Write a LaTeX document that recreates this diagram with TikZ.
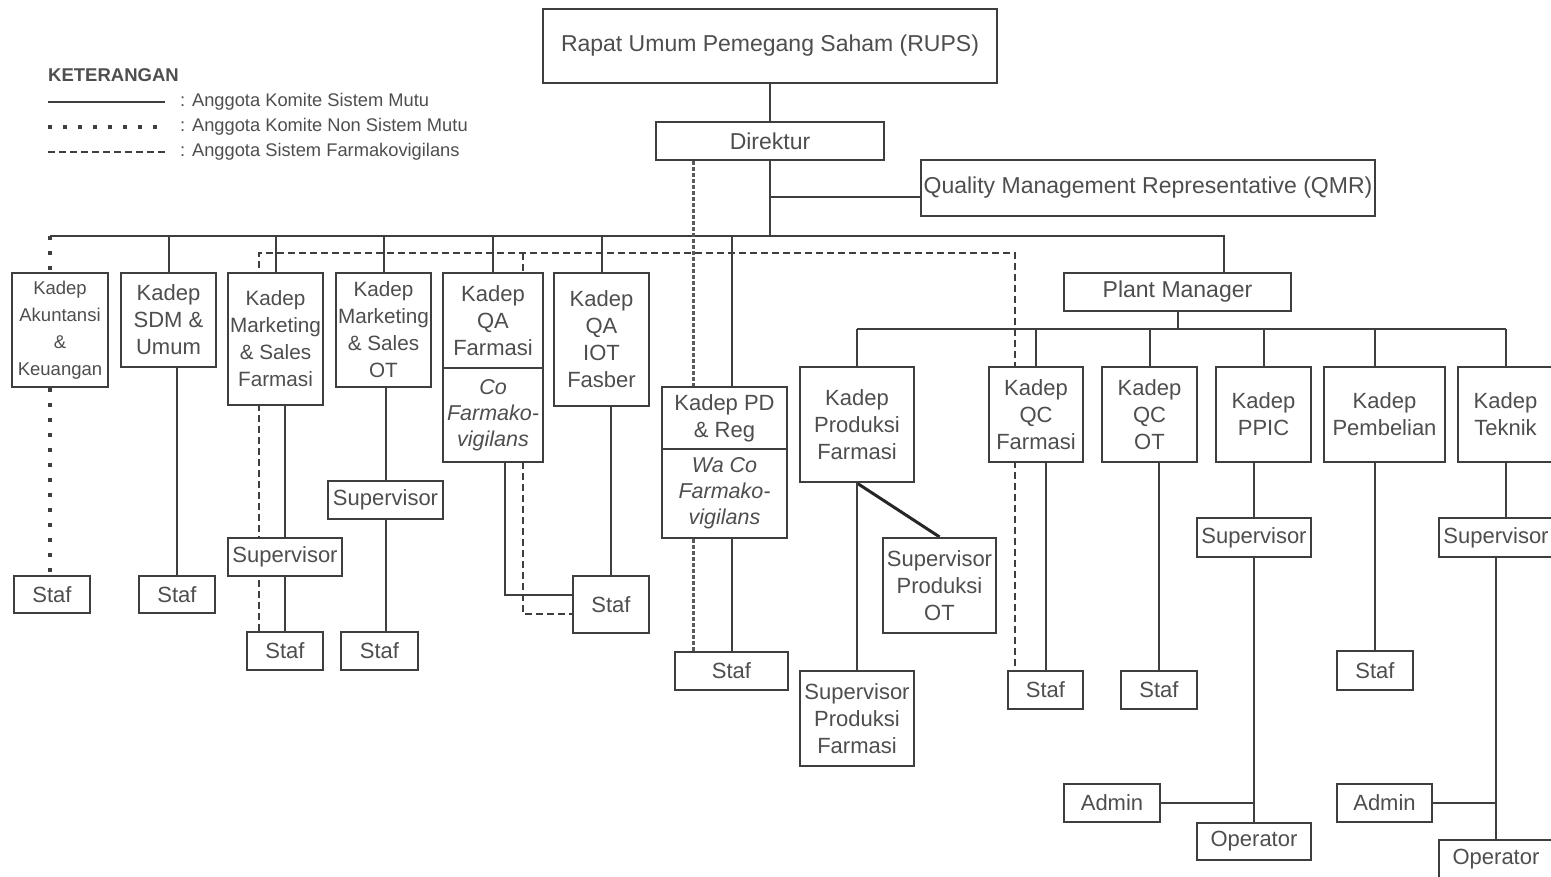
\documentclass[tikz,border=0pt]{standalone}
\usepackage{fontspec}
\setmainfont{Liberation Sans}
\usetikzlibrary{backgrounds}
\definecolor{Ink}{RGB}{62,62,62}
\definecolor{Txt}{RGB}{78,78,78}

\begin{document}
\begin{tikzpicture}[x=1pt,y=-1pt,
  box/.style={draw=Ink, line width=2.2pt, fill=white, text=Txt, align=center, inner sep=0pt, font=\fontsize{22}{27}\selectfont},
  big/.style={box, font=\fontsize{23}{27}\selectfont},
  coi/.style={box, font=\fontsize{21.5}{26}\selectfont\itshape},
  legtxt/.style={anchor=west, inner sep=0pt, text=Txt, font=\fontsize{18.3}{20}\selectfont},
  sm/.style={draw=Ink, line width=2pt},
  nsm/.style={draw=Ink, line width=3.5pt, dash pattern=on 3.5pt off 11.5pt},
  fv/.style={draw=Ink, line width=2pt, dash pattern=on 7pt off 4pt},
  pv/.style={draw=Ink!85, line width=3pt, dash pattern=on 3.5pt off 2.5pt}]
\useasboundingbox (0,0) rectangle (1551,876);

% keterangan
\node[legtxt, font=\bfseries\fontsize{18.5}{20}\selectfont] (ket) at (48,75) {KETERANGAN};
\node[legtxt] (lg1) at (180,102) {: Anggota Komite Sistem Mutu};
\node[legtxt] (lg2) at (180,127) {: Anggota Komite Non Sistem Mutu};
\node[legtxt] (lg3) at (180,152) {: Anggota Sistem Farmakovigilans};
\draw[sm] (48,102) -- (165,102);
\draw[nsm] (48,127) -- (165,127);
\draw[fv] (48,152) -- (165,152);

% pimpinan
\node[big, minimum width=454pt, minimum height=74pt] (rups) at (770,46) {Rapat Umum Pemegang Saham (RUPS)};
\node[big, minimum width=228pt, minimum height=38pt] (dir) at (770,141) {Direktur};
\node[big, minimum width=454pt, minimum height=56pt] (qmr) at (1148,188) {Quality Management Representative (QMR)};
\node[big, minimum width=227pt, minimum height=38pt] (pm) at (1177.5,292) {Plant Manager};

% kepala departemen
\node[box, font=\fontsize{18.5}{27}\selectfont, minimum width=96pt, minimum height=114pt] (akt) at (60,330) {Kadep\\Akuntansi\\\&\\Keuangan};
\node[box, minimum width=95pt, minimum height=94pt] (sdm) at (168.5,320) {Kadep\\SDM \&\\Umum};
\node[box, font=\fontsize{20.7}{27}\selectfont, minimum width=95pt, minimum height=132pt] (kmf) at (275.5,339) {Kadep\\Marketing\\\& Sales\\Farmasi};
\node[box, font=\fontsize{20.7}{27}\selectfont, minimum width=95pt, minimum height=114pt] (kmo) at (383.5,330) {Kadep\\Marketing\\\& Sales\\OT};
\node[box, minimum width=100pt, minimum height=95pt] (kqa) at (493,320.5) {Kadep\\QA\\Farmasi};
\node[coi, minimum width=100pt, minimum height=94pt] (kqaco) at (493,415) {Co\\Farmako-\\vigilans};
\node[box, minimum width=95pt, minimum height=133pt] (kqi) at (601.5,339.5) {Kadep\\QA\\IOT\\Fasber};
\node[box, minimum width=125pt, minimum height=62pt] (kpd) at (724.5,418) {Kadep PD\\\& Reg};
\node[coi, minimum width=125pt, minimum height=89pt] (kpdco) at (724.5,493.5) {Wa Co\\Farmako-\\vigilans};
\node[box, minimum width=114pt, minimum height=115pt] (kpf) at (857,424.5) {Kadep\\Produksi\\Farmasi};
\node[box, minimum width=94pt, minimum height=95pt] (kqcf) at (1036,414.5) {Kadep\\QC\\Farmasi};
\node[box, minimum width=95pt, minimum height=95pt] (kqco) at (1149.5,414.5) {Kadep\\QC\\OT};
\node[box, minimum width=95pt, minimum height=95pt] (kpp) at (1263.5,414.5) {Kadep\\PPIC};
\node[box, minimum width=121pt, minimum height=95pt] (kpb) at (1384.5,414.5) {Kadep\\Pembelian};
\node[box, minimum width=95pt, minimum height=95pt] (ktk) at (1505.5,414.5) {Kadep\\Teknik};

% supervisor, staf, admin, operator
\node[box, minimum width=76pt, minimum height=37pt] (sakt) at (52,594.5) {Staf};
\node[box, minimum width=76pt, minimum height=37pt] (ssdm) at (177,594.5) {Staf};
\node[box, minimum width=114pt, minimum height=38pt] (spmf) at (285,557) {Supervisor};
\node[box, minimum width=76pt, minimum height=38pt] (smf) at (285,651) {Staf};
\node[box, minimum width=115pt, minimum height=38pt] (spmo) at (385.5,500) {Supervisor};
\node[box, minimum width=77pt, minimum height=38pt] (smo) at (379.5,651) {Staf};
\node[box, minimum width=76pt, minimum height=57pt] (sqa) at (611,604.5) {Staf};
\node[box, minimum width=113pt, minimum height=38pt] (spd) at (731.5,671) {Staf};
\node[box, minimum width=113pt, minimum height=95pt] (spo) at (939.5,585.5) {Supervisor\\Produksi\\OT};
\node[box, minimum width=114pt, minimum height=95pt] (spf) at (857,718.5) {Supervisor\\Produksi\\Farmasi};
\node[box, minimum width=75pt, minimum height=38pt] (sqcf) at (1045.5,690) {Staf};
\node[box, minimum width=76pt, minimum height=38pt] (sqco) at (1159,690) {Staf};
\node[box, minimum width=114pt, minimum height=39pt] (spp) at (1254,537.5) {Supervisor};
\node[box, minimum width=96pt, minimum height=38pt] (app) at (1112,803) {Admin};
\node[box, minimum width=114pt, minimum height=37pt] (opp) at (1254,841.5) {Operator};
\node[box, minimum width=76pt, minimum height=39pt] (spb) at (1375,670.5) {Staf};
\node[box, minimum width=114pt, minimum height=39pt] (stk) at (1496,537.5) {Supervisor};
\node[box, minimum width=95pt, minimum height=38pt] (atk) at (1384.5,803) {Admin};
\node[box, minimum width=114pt, minimum height=38pt] (otk) at (1496,859) {Operator};

\coordinate (b0) at (50,236);
\coordinate (bus) at (770,236);
\coordinate (pmin) at (1224,273);
\coordinate (pb) at (1178,329);
\coordinate (fvl) at (259,253);
\coordinate (fvq) at (523,253);
\coordinate (fvr) at (1015,253);
\coordinate (pv) at (693,236);

\begin{scope}[on background layer]
% garis komando
\draw[sm] (rups) -- (dir);
\draw[sm] (dir.south) -- (bus);
\draw[sm] ([yshift=-9pt]qmr.west) -- ([yshift=-9pt]qmr.west -| bus);
\draw[sm] (b0) -- (pmin |- b0) -- (pmin);
\foreach \n in {sdm,kmf,kmo,kqa,kqi}
  \draw[sm] (\n.north) -- (\n.north |- bus);
\draw[sm] (kpd.north -| spd.north) -- (bus -| spd.north);
\draw[nsm] (b0) -- (b0 |- akt.north);
\draw[nsm] (b0 |- akt.south) -- (b0 |- sakt.north);
\draw[sm] (ssdm.north) -- (ssdm.north |- sdm.south);
\draw[sm] (kmf.south -| spmf.north) -- (spmf.north);
\draw[sm] (spmf) -- (smf);
\draw[sm] (kmo.south -| spmo.north) -- (spmo.north);
\draw[sm] (spmo.south) -- (spmo.south |- smo.north);
\draw[sm] ([xshift=12pt]kqaco.south) |- ([yshift=9.5pt]sqa.west);
\draw[sm] (sqa.north) -- (sqa.north |- kqi.south);
\draw[sm] (spd.north) -- (spd.north |- kpdco.south);
% plant
\draw[sm] (pm.south) -- (pm.south |- pb);
\draw[sm] (kpf.north |- pb) -- (ktk.north |- pb);
\foreach \n in {kpf,kqcf,kqco,kpp,ktk}
  \draw[sm] (\n.north) -- (\n.north |- pb);
\draw[sm] (kpb.north -| spb.north) -- (pb -| spb.north);
\draw[sm, line width=3pt, draw=black!85] (kpf.south) -- (spo.north);
\draw[sm] (kpf) -- (spf);
\draw[sm] (sqcf.north) -- (sqcf.north |- kqcf.south);
\draw[sm] (sqco.north) -- (sqco.north |- kqco.south);
\draw[sm] (kpp.south -| spp.north) -- (spp.north);
\draw[sm] (spp) -- (opp);
\draw[sm] (app.east) -- (app.east -| spp.south);
\draw[sm] (spb.north) -- (spb.north |- kpb.south);
\draw[sm] (ktk.south) -- (ktk.south |- stk.north);
\draw[sm] (stk) -- (otk);
\draw[sm] (atk.east) -- (atk.east -| stk.south);
% farmakovigilans
\draw[fv] (fvl |- smf.north) -- (fvl) -- (fvr) -- (fvr |- sqcf.north);
\draw[fv] (fvq) |- ([yshift=-9.5pt]sqa.west);
\draw[pv] (dir.south -| pv) -- (kpd.north -| pv);
\draw[pv] (kpdco.south -| pv) -- (spd.north -| pv);
\end{scope}
\end{tikzpicture}
\end{document}
